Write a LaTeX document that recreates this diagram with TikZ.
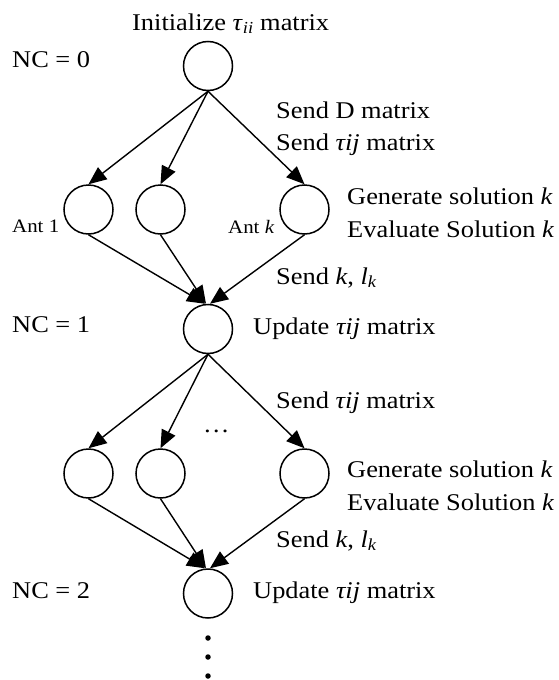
\documentclass[tikz,border=0pt]{standalone}
\usepackage{fontspec}
\setmainfont{Liberation Serif}[FakeStretch=1.1]
\usetikzlibrary{arrows.meta}

\begin{document}
\begin{tikzpicture}[x=1pt,y=-1pt,
  state/.style={circle,draw,line width=1.5pt,minimum size=49pt,inner sep=0pt},
  arr/.style={line width=1.4pt,-{Triangle[length=18pt,width=15pt]}},
  lbl/.style={anchor=base west,inner sep=0pt,font=\fontsize{24}{28}\selectfont},
  small/.style={anchor=base west,inner sep=0pt,font=\fontsize{19}{22}\selectfont},
  vdot/.style={circle,fill,inner sep=0pt,minimum size=5.5pt}]
\useasboundingbox (0,0) rectangle (558,680);

% iteration 0: initialisation node
\node[state] (top) at (208,66) {};
\node[lbl] (init) at (132,30) {Initialize \textit{τ}\textsubscript{\textit{ii}} matrix};
\node[lbl] (nc0) at (12,67) {NC = 0};

% first generation of ants
\node[state] (a1) at (88.5,209.5) {};
\node[state] (a2) at (160.5,209.5) {};
\node[state] (ak) at (304.5,209.5) {};
\node[small] (ant1) at (12,232) {Ant 1};
\node[small] (antk) at (228,233) {Ant \textit{k}};
\node[lbl] (sendD) at (276,118) {Send D matrix};
\node[lbl] (sendT) at (276,150) {Send \textit{τij} matrix};
\node[lbl] (gen1) at (347,204) {Generate solution \textit{k}};
\node[lbl] (eval1) at (347,237) {Evaluate Solution \textit{k}};
\node[lbl] (sendk1) at (276,284) {Send \textit{k}, \textit{l}\textsubscript{\textit{k}}};

\draw[arr] (top.south) -- (a1.north);
\draw[arr] (top.south) -- (a2.north);
\draw[arr] (top.south) -- (ak.north);

% iteration 1: update node
\node[state] (u1) at (208,329) {};
\node[lbl] (nc1) at (12,332) {NC = 1};
\node[lbl] (upd1) at (253,334) {Update \textit{τij} matrix};

\draw[arr] (a1.south) -- ([xshift=-3pt]u1.north);
\draw[arr] (a2.south) -- ([xshift=-2pt]u1.north);
\draw[arr] (ak.south) -- ([xshift=2pt]u1.north);

% second generation of ants
\node[state] (b1) at (88.5,473.5) {};
\node[state] (b2) at (160.5,473.5) {};
\node[state] (bk) at (304.5,473.5) {};
\node[lbl] (hdots) at (203,432) {\ldots};
\node[lbl] (sendT2) at (276,408) {Send \textit{τij} matrix};
\node[lbl] (gen2) at (347,477) {Generate solution \textit{k}};
\node[lbl] (eval2) at (347,510) {Evaluate Solution \textit{k}};
\node[lbl] (sendk2) at (276,547) {Send \textit{k}, \textit{l}\textsubscript{\textit{k}}};

\draw[arr] (u1.south) -- (b1.north);
\draw[arr] (u1.south) -- (b2.north);
\draw[arr] (u1.south) -- (bk.north);

% iteration 2: update node
\node[state] (u2) at (208,593.5) {};
\node[lbl] (nc2) at (12,598) {NC = 2};
\node[lbl] (upd2) at (253,598) {Update \textit{τij} matrix};

\draw[arr] (b1.south) -- ([xshift=-3pt]u2.north);
\draw[arr] (b2.south) -- ([xshift=-2pt]u2.north);
\draw[arr] (bk.south) -- ([xshift=2pt]u2.north);

% continuation dots
\node[vdot] (d1) at (208,638) {};
\node[vdot] (d2) at (208,657) {};
\node[vdot] (d3) at (208,676) {};
\end{tikzpicture}
\end{document}
